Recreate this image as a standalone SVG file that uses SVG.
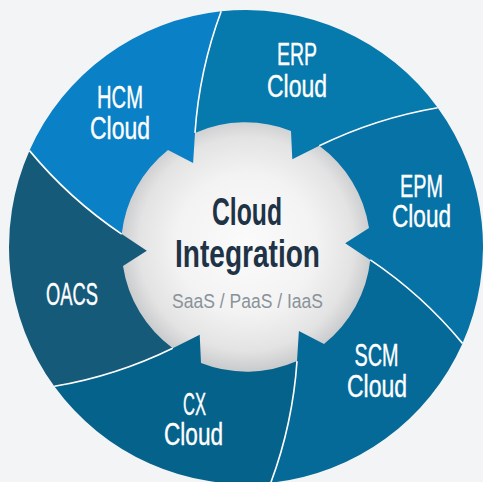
<svg xmlns="http://www.w3.org/2000/svg" xmlns:xlink="http://www.w3.org/1999/xlink" width="483" height="482" viewBox="0 0 483 482">
  <defs>
    <radialGradient id="hubGrad" cx="246" cy="244" r="126" gradientUnits="userSpaceOnUse">
      <stop offset="0" stop-color="#fbfbfb"/>
      <stop offset="0.55" stop-color="#f3f3f3"/>
      <stop offset="0.85" stop-color="#e3e3e4"/>
      <stop offset="1" stop-color="#cbcccd"/>
    </radialGradient>
    <path id="seg" d="M221.2,11.3 Q199.3,70.2 195.0,132.9 L193.1,163.0 L168.0,150.0 A125,125 0 0 0 121.7,234.2 Q69.5,199.0 29.5,150.6 A237,237 0 0 1 221.2,11.3 Z"/>
    <path id="sep" d="M221.2,11.3 Q199.3,70.2 195.0,132.9"/>
  </defs>
  <style>
    .lbl { font-family: "Liberation Sans Narrow", "Liberation Sans", "DejaVu Sans Condensed", sans-serif; font-size: 31px; fill: #ffffff; stroke: #ffffff; stroke-width: 0.4; text-anchor: middle; }
    .title { font-family: "Liberation Sans Narrow", "Liberation Sans", "DejaVu Sans Condensed", sans-serif; font-size: 38px; font-weight: bold; fill: #1f3347; text-anchor: middle; }
    .sub { font-family: "Liberation Sans Narrow", "Liberation Sans", "DejaVu Sans Condensed", sans-serif; font-size: 20.5px; fill: #8a9299; text-anchor: middle; }
    .sep { fill: none; stroke: #ffffff; stroke-width: 1.6; }
  </style>
  <rect x="0" y="0" width="483" height="482" fill="#f3f4f6"/>

  <g id="hub">
    <circle cx="246" cy="247" r="126" fill="url(#hubGrad)"/>
  </g>

  <g id="hcm">
    <use xlink:href="#seg" href="#seg" fill="#0a80c6"/>
    <text class="lbl" x="120" y="108" textLength="46" lengthAdjust="spacingAndGlyphs">HCM</text>
    <text class="lbl" x="120" y="139" textLength="60" lengthAdjust="spacingAndGlyphs">Cloud</text>
  </g>
  <g id="erp">
    <use xlink:href="#seg" href="#seg" fill="#0679ad" transform="rotate(60 246 247)"/>
    <text class="lbl" x="297" y="65" textLength="40" lengthAdjust="spacingAndGlyphs">ERP</text>
    <text class="lbl" x="297" y="97" textLength="60" lengthAdjust="spacingAndGlyphs">Cloud</text>
  </g>
  <g id="epm">
    <use xlink:href="#seg" href="#seg" fill="#0672a5" transform="rotate(120 246 247)"/>
    <text class="lbl" x="421.5" y="197" textLength="43" lengthAdjust="spacingAndGlyphs">EPM</text>
    <text class="lbl" x="421.5" y="227" textLength="59" lengthAdjust="spacingAndGlyphs">Cloud</text>
  </g>
  <g id="scm">
    <use xlink:href="#seg" href="#seg" fill="#066a99" transform="rotate(180 246 247)"/>
    <text class="lbl" x="376.5" y="366" textLength="44" lengthAdjust="spacingAndGlyphs">SCM</text>
    <text class="lbl" x="377" y="397" textLength="60" lengthAdjust="spacingAndGlyphs">Cloud</text>
  </g>
  <g id="cx">
    <use xlink:href="#seg" href="#seg" fill="#05628b" transform="rotate(240 246 247)"/>
    <text class="lbl" x="194.5" y="415" textLength="23" lengthAdjust="spacingAndGlyphs">CX</text>
    <text class="lbl" x="193.5" y="445" textLength="59" lengthAdjust="spacingAndGlyphs">Cloud</text>
  </g>
  <g id="oacs">
    <use xlink:href="#seg" href="#seg" fill="#165a7a" transform="rotate(300 246 247)"/>
    <text class="lbl" x="72" y="305" textLength="52" lengthAdjust="spacingAndGlyphs">OACS</text>
  </g>

  <g id="separators">
    <use xlink:href="#sep" href="#sep" class="sep"/>
    <use xlink:href="#sep" href="#sep" class="sep" transform="rotate(60 246 247)"/>
    <use xlink:href="#sep" href="#sep" class="sep" transform="rotate(120 246 247)"/>
    <use xlink:href="#sep" href="#sep" class="sep" transform="rotate(180 246 247)"/>
    <use xlink:href="#sep" href="#sep" class="sep" transform="rotate(240 246 247)"/>
    <use xlink:href="#sep" href="#sep" class="sep" transform="rotate(300 246 247)"/>
  </g>

  <g id="center-label">
    <text class="title" x="247" y="225" textLength="70" lengthAdjust="spacingAndGlyphs">Cloud</text>
    <text class="title" x="247.5" y="267" textLength="145" lengthAdjust="spacingAndGlyphs">Integration</text>
    <text class="sub" x="247.5" y="308" textLength="151" lengthAdjust="spacingAndGlyphs">SaaS / PaaS / IaaS</text>
  </g>
</svg>
